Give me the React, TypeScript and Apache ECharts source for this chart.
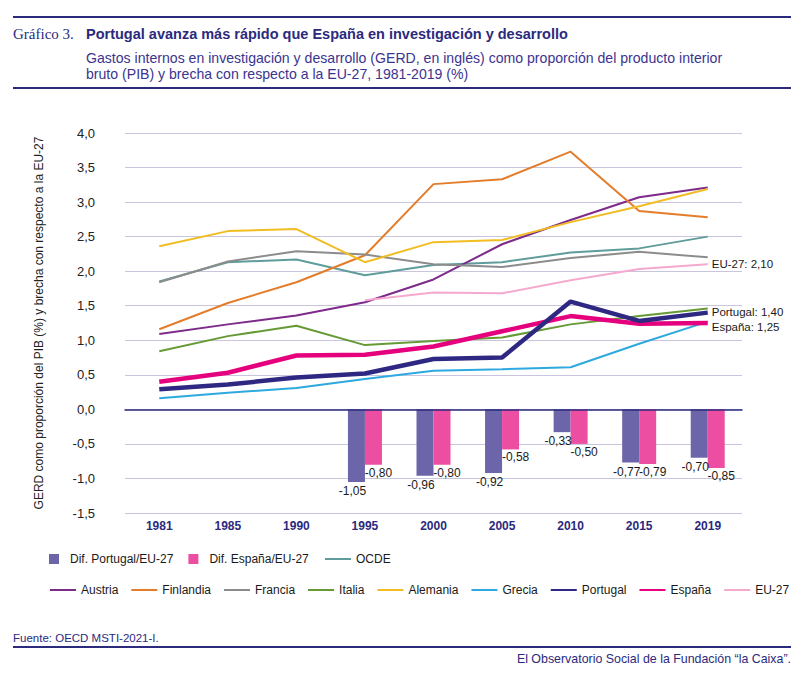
import React, { useEffect, useRef } from "react";
import * as echarts from "echarts";

const years = ["1981", "1985", "1990", "1995", "2000", "2005", "2010", "2015", "2019"];
const austria = [1.09, 1.23, 1.36, 1.55, 1.88, 2.39, 2.74, 3.07, 3.21];
const finlandia = [1.16, 1.54, 1.84, 2.23, 3.26, 3.33, 3.73, 2.87, 2.78];
const francia = [1.84, 2.14, 2.29, 2.24, 2.1, 2.06, 2.19, 2.28, 2.2];
const italia = [0.84, 1.06, 1.21, 0.93, 0.99, 1.04, 1.23, 1.35, 1.46];
const alemania = [2.36, 2.58, 2.61, 2.13, 2.42, 2.45, 2.71, 2.94, 3.19];
const grecia = [0.16, 0.24, 0.31, 0.44, 0.56, 0.58, 0.61, 0.95, 1.27];
const portugal = [0.29, 0.36, 0.46, 0.52, 0.73, 0.75, 1.56, 1.28, 1.4];
const espana = [0.4, 0.53, 0.78, 0.79, 0.91, 1.13, 1.35, 1.24, 1.25];
const eu27 = [null, null, null, 1.58, 1.69, 1.68, 1.87, 2.03, 2.1];
const ocde = [1.85, 2.13, 2.17, 1.94, 2.09, 2.13, 2.27, 2.33, 2.5];
const difPortugal = [null, null, null, -1.05, -0.96, -0.92, -0.33, -0.77, -0.7];
const difEspana = [null, null, null, -0.8, -0.8, -0.58, -0.5, -0.79, -0.85];

const NAVY = "#2b2a7d";
const SUB = "#3b3490";
const SANS = "'Liberation Sans', Arial, sans-serif";

const fmt = (v: number, d: number) => v.toFixed(d).replace(".", ",");

export default function App() {
  const ref = useRef<HTMLDivElement>(null);

  useEffect(() => {
    document.body.style.margin = "0";
    const chart = echarts.init(ref.current!, null, { renderer: "svg" });

    const line = (name: string, data: (number | null)[], color: string, width = 2, z = 2, extra: any = {}) => ({
      name,
      type: "line",
      data,
      symbol: "none",
      z,
      lineStyle: { color, width },
      itemStyle: { color },
      ...extra,
    });

    const endLabel = (text: string, offset: number[]) => ({
      endLabel: {
        show: true,
        formatter: () => text,
        color: "#1a1a1a",
        fontFamily: SANS,
        fontSize: 11.5,
        distance: 4,
        offset,
      },
    });

    const lineLegendItemStyle = { opacity: 0, borderWidth: 0 };

    const option: any = {
      animation: false,
      grid: { left: 125, right: 58, top: 133, bottom: 160 },
      xAxis: {
        type: "category",
        data: years,
        z: 10,
        axisLine: { onZero: true, lineStyle: { color: NAVY, width: 1.5 } },
        axisTick: { show: false },
        axisLabel: { color: NAVY, fontWeight: "bold", fontSize: 12, fontFamily: SANS, margin: 7 },
        splitLine: { show: false },
      },
      yAxis: {
        type: "value",
        min: -1.5,
        max: 4,
        interval: 0.5,
        axisLine: { show: false },
        axisTick: { show: false },
        axisLabel: {
          formatter: (v: number) => fmt(v, 1),
          color: "#222",
          fontSize: 13,
          fontFamily: SANS,
          margin: 30,
        },
        splitLine: { lineStyle: { color: "#c9c5de", width: 1 } },
        name: "GERD como proporción del PIB (%) y brecha con respecto a la EU-27",
        nameLocation: "middle",
        nameGap: 80,
        nameTextStyle: { fontSize: 12, color: "#222", fontFamily: SANS },
      },
      legend: [
        {
          data: ["Dif. Portugal/EU-27", "Dif. España/EU-27"],
          left: 49,
          top: 553,
          icon: "rect",
          itemWidth: 10,
          itemHeight: 10,
          itemGap: 15,
          padding: 0,
          textStyle: { fontFamily: SANS, fontSize: 12, color: "#1a1a1a", padding: [0, 0, 0, 6] },
        },
        {
          data: ["OCDE"],
          left: 324,
          top: 553,
          itemWidth: 26,
          itemHeight: 14,
          padding: 0,
          itemStyle: lineLegendItemStyle,
          textStyle: { fontFamily: SANS, fontSize: 12, color: "#1a1a1a" },
        },
        {
          data: ["Austria", "Finlandia", "Francia", "Italia", "Alemania", "Grecia", "Portugal", "España", "EU-27"],
          left: 49,
          top: 584,
          width: 760,
          itemWidth: 26,
          itemHeight: 14,
          itemGap: 12,
          padding: 0,
          itemStyle: lineLegendItemStyle,
          textStyle: { fontFamily: SANS, fontSize: 12, color: "#1a1a1a" },
        },
      ],
      series: [
        {
          name: "Dif. Portugal/EU-27",
          type: "bar",
          data: difPortugal,
          barWidth: 17,
          barGap: "0%",
          itemStyle: { color: "#6c65a9" },
          label: {
            show: true,
            position: "bottom",
            distance: 3,
            offset: [-4, 0],
            formatter: (p: any) => fmt(p.value, 2),
            color: "#1a1a1a",
            fontFamily: SANS,
            fontSize: 12,
          },
        },
        {
          name: "Dif. España/EU-27",
          type: "bar",
          data: difEspana,
          barWidth: 17,
          barGap: "0%",
          itemStyle: { color: "#ec4fa2" },
          label: {
            show: true,
            position: "bottom",
            distance: 2,
            offset: [5, 0],
            formatter: (p: any) => fmt(p.value, 2),
            color: "#1a1a1a",
            fontFamily: SANS,
            fontSize: 12,
          },
        },
        line("OCDE", ocde, "#5f9c9b"),
        line("Austria", austria, "#7d2a8a"),
        line("Finlandia", finlandia, "#e37d2b"),
        line("Francia", francia, "#8c8c8c"),
        line("Italia", italia, "#659a35"),
        line("Alemania", alemania, "#f1bd22"),
        line("Grecia", grecia, "#2ea9df"),
        line("EU-27", eu27, "#f5a9cf", 2, 2, endLabel("EU-27: " + fmt(eu27[eu27.length - 1] as number, 2), [0, 0])),
        line("España", espana, "#e5007d", 4.5, 3, endLabel("España: " + fmt(espana[espana.length - 1], 2), [0, 4])),
        line("Portugal", portugal, "#2e2882", 4.5, 4, endLabel("Portugal: " + fmt(portugal[portugal.length - 1], 2), [0, -1])),
      ],
      graphic: [
        { type: "rect", left: 13, top: 16, shape: { width: 778, height: 2 }, style: { fill: NAVY } },
        {
          type: "text",
          left: 13,
          top: 26,
          style: { text: "Gráfico 3.", font: "15px 'Liberation Serif', serif", fill: NAVY },
        },
        {
          type: "text",
          left: 86,
          top: 26,
          style: { text: "Portugal avanza más rápido que España en investigación y desarrollo", font: `bold 14.5px ${SANS}`, fill: NAVY },
        },
        {
          type: "text",
          left: 86,
          top: 50,
          style: {
            text: "Gastos internos en investigación y desarrollo (GERD, en inglés) como proporción del producto interior\nbruto (PIB) y brecha con respecto a la EU-27, 1981-2019 (%)",
            font: `14.1px ${SANS}`,
            lineHeight: 16,
            fill: SUB,
          },
        },
        { type: "rect", left: 13, top: 87, shape: { width: 778, height: 2 }, style: { fill: NAVY } },
        {
          type: "text",
          left: 13,
          top: 632,
          style: { text: "Fuente: OECD MSTI-2021-I.", font: `11.5px ${SANS}`, fill: NAVY },
        },
        { type: "rect", left: 13, top: 646, shape: { width: 778, height: 2 }, style: { fill: NAVY } },
        {
          type: "text",
          right: 9,
          top: 653,
          style: { text: "El Observatorio Social de la Fundación “la Caixa”.", font: `12.4px ${SANS}`, fill: NAVY },
        },
      ],
    };

    chart.setOption(option);
    return () => chart.dispose();
  }, []);

  return <div ref={ref} style={{ width: 800, height: 673 }} />;
}
